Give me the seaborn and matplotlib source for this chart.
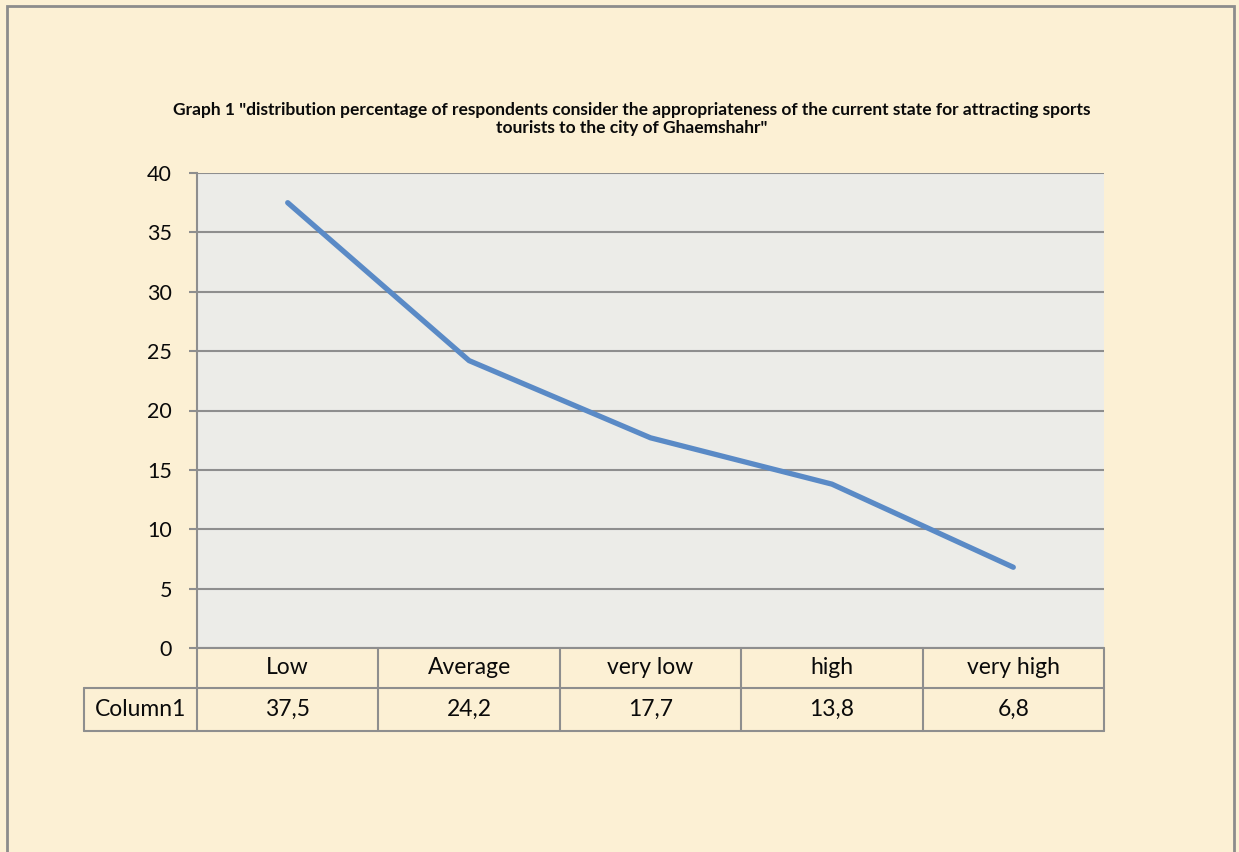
import matplotlib
matplotlib.use("Agg")
import matplotlib.pyplot as plt
from matplotlib.patches import Rectangle
import pandas as pd
import seaborn as sns

# Survey categories and share of respondents (%)
categories = ["Low", "Average", "very low", "high", "very high"]
values = [37.5, 24.2, 17.7, 13.8, 6.8]
value_labels = ["37,5", "24,2", "17,7", "13,8", "6,8"]
series_name = "Column1"
y_ticks = [0, 5, 10, 15, 20, 25, 30, 35, 40]
title = ('Graph 1 "distribution percentage of respondents consider the appropriateness '
         'of the current state for attracting sports\ntourists to the city of Ghaemshahr"')

sns.set_theme(style="white")
plt.rcParams["font.family"] = ["Lato", "DejaVu Sans"]

BG = "#FCF0D4"
PLOT_BG = "#ECECE8"
GRID = "#8E8E8E"
LINE = "#5A8AC6"
TXT = "#0A0A0A"

W, H = 1239, 852
fig = plt.figure(figsize=(W / 100, H / 100), dpi=100, facecolor=BG)

# plot area in pixels
L, R, T, B = 197, 1104, 173, 648
ax = fig.add_axes([L / W, 1 - B / H, (R - L) / W, (B - T) / H])
ax.set_facecolor(PLOT_BG)

df = pd.DataFrame({"pos": range(len(categories)), "value": values})
sns.lineplot(data=df, x="pos", y="value", ax=ax, color=LINE, linewidth=3.8,
             solid_capstyle="round", solid_joinstyle="round", zorder=5)

ax.set_xlim(-0.5, len(categories) - 0.5)
ax.set_ylim(0, 40)
ax.set_yticks(y_ticks)
ax.set_yticklabels([str(t) for t in y_ticks])
ax.yaxis.grid(True, color=GRID, linewidth=1.5)
ax.set_axisbelow(True)
ax.set_xticks([])
ax.set_xlabel("")
ax.set_ylabel("")
for side in ["top", "right", "bottom"]:
    ax.spines[side].set_visible(False)
ax.spines["left"].set_color(GRID)
ax.spines["left"].set_linewidth(1.5)
ax.tick_params(axis="y", which="major", left=True, length=6, width=1.5, color=GRID,
               direction="out", pad=12, labelsize=15.5, labelcolor=TXT)

# data table under the plot area
pw, ph = R - L, B - T
r1 = -40 / ph
r2 = -83 / ph
xl = -113 / pw
tf = ax.transAxes
lk = dict(transform=tf, color=GRID, linewidth=1.5, clip_on=False, zorder=6)
n = len(categories)
for k in range(n + 1):
    ax.plot([k / n, k / n], [0, r2], **lk)
ax.plot([xl, xl], [r1, r2], **lk)
ax.plot([0, 1], [0, 0], **lk)
ax.plot([xl, 1], [r1, r1], **lk)
ax.plot([xl, 1], [r2, r2], **lk)

tk = dict(transform=tf, ha="center", va="center", fontsize=16.5, color=TXT)
for i, (c, v) in enumerate(zip(categories, value_labels)):
    xc = (i + 0.5) / n
    ax.text(xc, r1 / 2, c, **tk)
    ax.text(xc, (r1 + r2) / 2, v, **tk)
ax.text(xl / 2, (r1 + r2) / 2, series_name, **tk)

fig.text(632 / W, 1 - 119 / H, title, ha="center", va="center", fontsize=12.5,
         fontweight="bold", color=TXT, linespacing=1.12)

# chart frame
fig.patches.append(Rectangle((7 / W, -0.05), (1234 - 7) / W, 1.05 - 6 / H,
                             transform=fig.transFigure, fill=False,
                             edgecolor="#8C8C8C", linewidth=2))

fig.savefig("out.png", dpi=100, facecolor=BG)
